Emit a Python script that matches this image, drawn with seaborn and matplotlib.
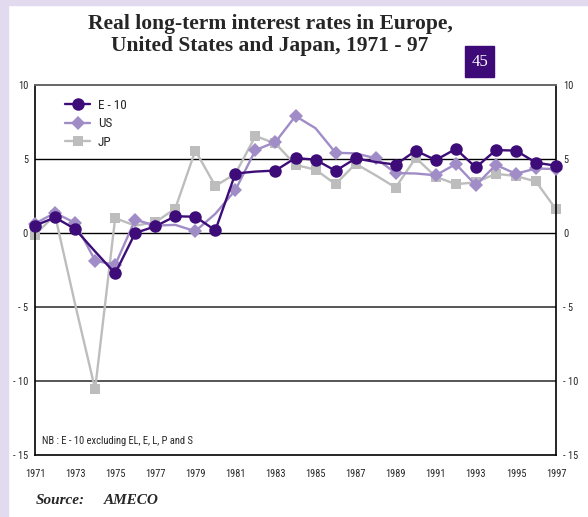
import numpy as np
import pandas as pd
import matplotlib.pyplot as plt
import seaborn as sns
from matplotlib.patches import Rectangle

# Data (real long-term interest rates, %)
years = list(range(1971, 1998))
e10 = [0.5, 1.05, 0.27, -1.25, -2.73, 0.0, 0.45, 1.13, 1.1, 0.18, 4.02, 4.15, 4.22,
       5.07, 4.95, 4.2, 5.04, 4.8, 4.62, 5.56, 4.93, 5.68, 4.43, 5.6, 5.57, 4.75, 4.55]
us = [0.64, 1.36, 0.68, -1.86, -2.16, 0.9, 0.5, 0.55, 0.12, 1.3, 2.9, 5.6, 6.15,
      7.9, 7.08, 5.42, 5.38, 5.05, 4.05, 4.02, 3.9, 4.66, 3.23, 4.6, 4.0, 4.36, 4.32]
jp = [-0.11, 1.2, -4.8, -10.55, 1.0, 0.5, 0.72, 1.65, 5.57, 3.18, 4.0, 6.55, 6.05,
      4.6, 4.28, 3.3, 4.68, 3.9, 3.07, 5.08, 3.8, 3.3, 3.42, 4.0, 3.85, 3.48, 1.6]
series_names = ['E - 10', 'US', 'JP']
yticks = [10, 5, 0, -5, -10, -15]
ytick_labels = ['10', '5', '0', '- 5', '- 10', '- 15']
xticks = list(range(1971, 1998, 2))

df = pd.DataFrame({'year': years, 'E - 10': e10, 'US': us, 'JP': jp})

sns.set_style('white')
plt.rcParams['font.family'] = ['Roboto Condensed', 'DejaVu Sans']

c_e10 = '#3d0c78'
c_us = '#a08cc6'
c_jp = '#bdbdbd'

fig = plt.figure(figsize=(5.88, 5.17), dpi=100)
fig.patch.set_facecolor('white')
# lavender page border
fig.patches.append(Rectangle((0, 0), 8 / 588, 1, transform=fig.transFigure,
                             color='#e2daee', zorder=0))
fig.patches.append(Rectangle((0, 1 - 5 / 517), 1, 5 / 517, transform=fig.transFigure,
                             color='#e2daee', zorder=0))

ax = fig.add_axes([35 / 588, 1 - 455 / 517, 521 / 588, 370 / 517])

# reference lines
for v, col, lw in [(5, 'black', 1.0), (0, 'black', 1.0), (-5, '#555555', 1.4), (-10, '#555555', 1.4)]:
    ax.axhline(v, color=col, lw=lw, zorder=1)

# markers that are not shown on the original
skip = {'E - 10': [3, 11, 17], 'US': [7, 9, 14, 16, 19], 'JP': [2, 5, 10, 17]}
styles = {'E - 10': (c_e10, 'o', 9, 4),
          'US': (c_us, 'D', 7.5, 3),
          'JP': (c_jp, 's', 7.5, 2)}

for name in ['JP', 'US', 'E - 10']:
    col, mk, ms, z = styles[name]
    keep = [i for i in range(len(years)) if i not in skip[name]]
    sns.lineplot(data=df, x='year', y=name, ax=ax, color=col, marker=mk,
                 markersize=ms, markeredgewidth=0, linewidth=1.7,
                 markevery=keep, label=name, clip_on=False, zorder=z)

ax.set_xlim(1971, 1997)
ax.set_ylim(-15, 10)
ax.set_xticks(xticks)
ax.set_xticklabels([str(y) for y in xticks], fontsize=7.5)
ax.set_yticks(yticks)
ax.set_yticklabels(ytick_labels, fontsize=7.5)
ax.tick_params(axis='y', length=0, pad=5, labelright=True, right=False)
ax.tick_params(axis='x', length=0, pad=10)
ax.set_xlabel('')
ax.set_ylabel('')

for s in ['left', 'right', 'bottom']:
    ax.spines[s].set_color('black')
    ax.spines[s].set_linewidth(1.2)
ax.spines['top'].set_color('#666666')
ax.spines['top'].set_linewidth(1.4)

h, l = ax.get_legend_handles_labels()
order = [l.index(n) for n in series_names]
ax.legend([h[i] for i in order], [l[i] for i in order], loc='upper left',
          bbox_to_anchor=(0.035, 0.995), frameon=False, fontsize=9.5,
          handlelength=1.9, labelspacing=0.42, handletextpad=0.6)

ax.text(0.013, 0.037, 'NB : E - 10 excluding EL, E, L, P and S', transform=ax.transAxes,
        fontsize=7.6, va='center', ha='left')

# title
fig.text(270 / 588, 1 - 35 / 517, 'Real long-term interest rates in Europe,\nUnited States and Japan, 1971 - 97',
         ha='center', va='center', fontsize=15.5, fontweight='bold',
         family=['Liberation Serif'], linespacing=1.12)

# page number box
fig.patches.append(Rectangle((465 / 588, 1 - 77 / 517), 29 / 588, 31 / 517,
                             transform=fig.transFigure, color='#3d0a78', zorder=2))
fig.text(479.5 / 588, 1 - 61.5 / 517, '45', ha='center', va='center', color='white',
         fontsize=12, family=['Liberation Serif'], zorder=3)

# source line
fig.text(36 / 588, 1 - 500 / 517, 'Source:', ha='left', va='center', fontsize=11,
         fontweight='bold', fontstyle='italic', family=['Liberation Serif'])
fig.text(104 / 588, 1 - 500 / 517, 'AMECO', ha='left', va='center', fontsize=11,
         fontweight='bold', fontstyle='italic', family=['Liberation Serif'])

fig.savefig('out.png', dpi=100)
